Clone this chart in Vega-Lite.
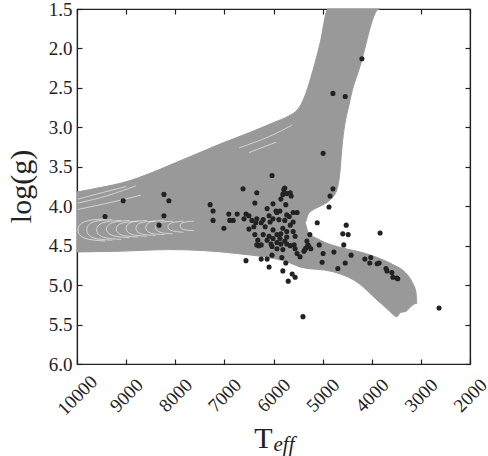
{
  "$schema": "https://vega.github.io/schema/vega-lite/v6.json",
  "width": 393,
  "height": 355,
  "autosize": {"type": "none"},
  "padding": {"left": 77, "top": 9, "right": 18, "bottom": 92},
  "background": "white",
  "config": {
    "view": {"stroke": "#222", "strokeWidth": 1.2},
    "font": "Liberation Serif",
    "axis": {"grid": false, "domainColor": "#222", "tickColor": "#222", "labelColor": "#222", "titleColor": "#222", "domainWidth": 1.2, "tickWidth": 1.2, "labelFont": "Liberation Serif", "titleFont": "Liberation Serif", "titleFontWeight": "normal"}
  },
  "datasets": {
    "band": [
      {"seq": 1, "teff": 10000, "logg": 3.82},
      {"seq": 2, "teff": 9500, "logg": 3.76},
      {"seq": 3, "teff": 9000, "logg": 3.69},
      {"seq": 4, "teff": 8500, "logg": 3.58},
      {"seq": 5, "teff": 8000, "logg": 3.45},
      {"seq": 6, "teff": 7500, "logg": 3.32},
      {"seq": 7, "teff": 7000, "logg": 3.19},
      {"seq": 8, "teff": 6500, "logg": 3.07},
      {"seq": 9, "teff": 6000, "logg": 2.94},
      {"seq": 10, "teff": 5700, "logg": 2.86},
      {"seq": 11, "teff": 5550, "logg": 2.80},
      {"seq": 12, "teff": 5440, "logg": 2.71},
      {"seq": 13, "teff": 5360, "logg": 2.60},
      {"seq": 14, "teff": 5240, "logg": 2.37},
      {"seq": 15, "teff": 5050, "logg": 1.93},
      {"seq": 16, "teff": 4890, "logg": 1.50},
      {"seq": 17, "teff": 3850, "logg": 1.50},
      {"seq": 18, "teff": 4240, "logg": 2.23},
      {"seq": 19, "teff": 4440, "logg": 2.65},
      {"seq": 20, "teff": 4610, "logg": 3.28},
      {"seq": 21, "teff": 4650, "logg": 3.58},
      {"seq": 22, "teff": 4710, "logg": 3.79},
      {"seq": 23, "teff": 4850, "logg": 3.92},
      {"seq": 24, "teff": 4990, "logg": 3.98},
      {"seq": 25, "teff": 5150, "logg": 4.03},
      {"seq": 26, "teff": 5300, "logg": 4.11},
      {"seq": 27, "teff": 5360, "logg": 4.21},
      {"seq": 28, "teff": 5300, "logg": 4.32},
      {"seq": 29, "teff": 5050, "logg": 4.43},
      {"seq": 30, "teff": 4710, "logg": 4.51},
      {"seq": 31, "teff": 4180, "logg": 4.59},
      {"seq": 32, "teff": 3890, "logg": 4.65},
      {"seq": 33, "teff": 3570, "logg": 4.74},
      {"seq": 34, "teff": 3320, "logg": 4.84},
      {"seq": 35, "teff": 3180, "logg": 4.96},
      {"seq": 36, "teff": 3100, "logg": 5.09},
      {"seq": 37, "teff": 3080, "logg": 5.23},
      {"seq": 38, "teff": 3180, "logg": 5.26},
      {"seq": 39, "teff": 3300, "logg": 5.33},
      {"seq": 40, "teff": 3420, "logg": 5.35},
      {"seq": 41, "teff": 3490, "logg": 5.40},
      {"seq": 42, "teff": 3670, "logg": 5.31},
      {"seq": 43, "teff": 3890, "logg": 5.19},
      {"seq": 44, "teff": 4280, "logg": 4.97},
      {"seq": 45, "teff": 4790, "logg": 4.83},
      {"seq": 46, "teff": 5460, "logg": 4.77},
      {"seq": 47, "teff": 5660, "logg": 4.72},
      {"seq": 48, "teff": 6740, "logg": 4.60},
      {"seq": 49, "teff": 8110, "logg": 4.55},
      {"seq": 50, "teff": 9120, "logg": 4.57},
      {"seq": 51, "teff": 10000, "logg": 4.58}
    ],
    "gaps": [
      {"arc": "a1", "seq": 1, "teff": 9430, "logg": 4.44}, {"arc": "a1", "seq": 2, "teff": 9842, "logg": 4.405}, {"arc": "a1", "seq": 3, "teff": 9980, "logg": 4.30}, {"arc": "a1", "seq": 4, "teff": 9842, "logg": 4.195}, {"arc": "a1", "seq": 5, "teff": 9430, "logg": 4.16},
      {"arc": "a2", "seq": 1, "teff": 9280, "logg": 4.43}, {"arc": "a2", "seq": 2, "teff": 9670, "logg": 4.40}, {"arc": "a2", "seq": 3, "teff": 9800, "logg": 4.30}, {"arc": "a2", "seq": 4, "teff": 9670, "logg": 4.20}, {"arc": "a2", "seq": 5, "teff": 9280, "logg": 4.17},
      {"arc": "a3", "seq": 1, "teff": 9100, "logg": 4.42}, {"arc": "a3", "seq": 2, "teff": 9475, "logg": 4.39}, {"arc": "a3", "seq": 3, "teff": 9600, "logg": 4.30}, {"arc": "a3", "seq": 4, "teff": 9475, "logg": 4.21}, {"arc": "a3", "seq": 5, "teff": 9100, "logg": 4.18},
      {"arc": "a4", "seq": 1, "teff": 8930, "logg": 4.40}, {"arc": "a4", "seq": 2, "teff": 9280, "logg": 4.37}, {"arc": "a4", "seq": 3, "teff": 9400, "logg": 4.29}, {"arc": "a4", "seq": 4, "teff": 9280, "logg": 4.21}, {"arc": "a4", "seq": 5, "teff": 8930, "logg": 4.18},
      {"arc": "a5", "seq": 1, "teff": 8750, "logg": 4.39}, {"arc": "a5", "seq": 2, "teff": 9090, "logg": 4.365}, {"arc": "a5", "seq": 3, "teff": 9200, "logg": 4.29}, {"arc": "a5", "seq": 4, "teff": 9090, "logg": 4.215}, {"arc": "a5", "seq": 5, "teff": 8750, "logg": 4.19},
      {"arc": "a6", "seq": 1, "teff": 8580, "logg": 4.38}, {"arc": "a6", "seq": 2, "teff": 8895, "logg": 4.355}, {"arc": "a6", "seq": 3, "teff": 9000, "logg": 4.28}, {"arc": "a6", "seq": 4, "teff": 8895, "logg": 4.205}, {"arc": "a6", "seq": 5, "teff": 8580, "logg": 4.18},
      {"arc": "a7", "seq": 1, "teff": 8400, "logg": 4.37}, {"arc": "a7", "seq": 2, "teff": 8700, "logg": 4.35}, {"arc": "a7", "seq": 3, "teff": 8800, "logg": 4.28}, {"arc": "a7", "seq": 4, "teff": 8700, "logg": 4.21}, {"arc": "a7", "seq": 5, "teff": 8400, "logg": 4.19},
      {"arc": "a8", "seq": 1, "teff": 8220, "logg": 4.36}, {"arc": "a8", "seq": 2, "teff": 8505, "logg": 4.34}, {"arc": "a8", "seq": 3, "teff": 8600, "logg": 4.27}, {"arc": "a8", "seq": 4, "teff": 8505, "logg": 4.20}, {"arc": "a8", "seq": 5, "teff": 8220, "logg": 4.18},
      {"arc": "a9", "seq": 1, "teff": 8050, "logg": 4.35}, {"arc": "a9", "seq": 2, "teff": 8310, "logg": 4.33}, {"arc": "a9", "seq": 3, "teff": 8400, "logg": 4.27}, {"arc": "a9", "seq": 4, "teff": 8310, "logg": 4.21}, {"arc": "a9", "seq": 5, "teff": 8050, "logg": 4.19},
      {"arc": "a10", "seq": 1, "teff": 7830, "logg": 4.33}, {"arc": "a10", "seq": 2, "teff": 8070, "logg": 4.31}, {"arc": "a10", "seq": 3, "teff": 8150, "logg": 4.26}, {"arc": "a10", "seq": 4, "teff": 8070, "logg": 4.21}, {"arc": "a10", "seq": 5, "teff": 7830, "logg": 4.19},
      {"arc": "a11", "seq": 1, "teff": 7620, "logg": 4.31}, {"arc": "a11", "seq": 2, "teff": 7830, "logg": 4.295}, {"arc": "a11", "seq": 3, "teff": 7900, "logg": 4.25}, {"arc": "a11", "seq": 4, "teff": 7830, "logg": 4.205}, {"arc": "a11", "seq": 5, "teff": 7620, "logg": 4.19},
      {"arc": "s1", "seq": 1, "teff": 9980, "logg": 3.96}, {"arc": "s1", "seq": 2, "teff": 9400, "logg": 3.87}, {"arc": "s1", "seq": 3, "teff": 8800, "logg": 3.74},
      {"arc": "s2", "seq": 1, "teff": 9980, "logg": 4.04}, {"arc": "s2", "seq": 2, "teff": 9300, "logg": 3.95}, {"arc": "s2", "seq": 3, "teff": 8700, "logg": 3.86},
      {"arc": "s5", "seq": 1, "teff": 9980, "logg": 3.91}, {"arc": "s5", "seq": 2, "teff": 9500, "logg": 3.83}, {"arc": "s5", "seq": 3, "teff": 9000, "logg": 3.75},
      {"arc": "s3", "seq": 1, "teff": 6700, "logg": 3.26}, {"arc": "s3", "seq": 2, "teff": 6100, "logg": 3.12}, {"arc": "s3", "seq": 3, "teff": 5620, "logg": 2.97},
      {"arc": "s4", "seq": 1, "teff": 6500, "logg": 3.32}, {"arc": "s4", "seq": 2, "teff": 5950, "logg": 3.19}
    ],
    "stars": [
      {"teff": 9430, "logg": 4.13}, {"teff": 9060, "logg": 3.93}, {"teff": 8230, "logg": 3.85}, {"teff": 8130, "logg": 3.93},
      {"teff": 8230, "logg": 4.12}, {"teff": 8330, "logg": 4.24}, {"teff": 7290, "logg": 3.98}, {"teff": 7230, "logg": 4.06},
      {"teff": 7230, "logg": 4.18}, {"teff": 7010, "logg": 4.28}, {"teff": 6910, "logg": 4.10}, {"teff": 6890, "logg": 4.18},
      {"teff": 6820, "logg": 4.18}, {"teff": 6740, "logg": 4.10}, {"teff": 6560, "logg": 4.10}, {"teff": 6620, "logg": 3.78},
      {"teff": 6030, "logg": 3.61}, {"teff": 6340, "logg": 3.83}, {"teff": 6380, "logg": 3.96}, {"teff": 6560, "logg": 4.69},
      {"teff": 6010, "logg": 3.97}, {"teff": 5850, "logg": 3.91}, {"teff": 5810, "logg": 3.85}, {"teff": 5790, "logg": 3.79},
      {"teff": 6130, "logg": 4.03}, {"teff": 5950, "logg": 4.06}, {"teff": 6500, "logg": 4.12}, {"teff": 6600, "logg": 4.16},
      {"teff": 6440, "logg": 4.18}, {"teff": 6340, "logg": 4.16}, {"teff": 6210, "logg": 4.17}, {"teff": 6090, "logg": 4.12},
      {"teff": 6010, "logg": 4.16}, {"teff": 5930, "logg": 4.08}, {"teff": 5890, "logg": 4.17}, {"teff": 6070, "logg": 4.20},
      {"teff": 6360, "logg": 4.21}, {"teff": 6250, "logg": 4.21}, {"teff": 5770, "logg": 3.77}, {"teff": 5730, "logg": 3.84},
      {"teff": 5660, "logg": 3.83}, {"teff": 5640, "logg": 3.87}, {"teff": 5750, "logg": 3.98}, {"teff": 5870, "logg": 4.06},
      {"teff": 5730, "logg": 4.11}, {"teff": 5600, "logg": 4.08}, {"teff": 5520, "logg": 4.08}, {"teff": 5680, "logg": 4.13},
      {"teff": 5770, "logg": 4.18}, {"teff": 5600, "logg": 4.20}, {"teff": 4790, "logg": 3.78}, {"teff": 4850, "logg": 3.87},
      {"teff": 4870, "logg": 4.01}, {"teff": 5110, "logg": 4.21}, {"teff": 6500, "logg": 4.29}, {"teff": 6400, "logg": 4.26},
      {"teff": 6170, "logg": 4.26}, {"teff": 6010, "logg": 4.30}, {"teff": 6380, "logg": 4.36}, {"teff": 6320, "logg": 4.43},
      {"teff": 6250, "logg": 4.49}, {"teff": 6210, "logg": 4.36}, {"teff": 6090, "logg": 4.38}, {"teff": 6010, "logg": 4.41},
      {"teff": 6130, "logg": 4.43}, {"teff": 6050, "logg": 4.48}, {"teff": 5930, "logg": 4.36}, {"teff": 5870, "logg": 4.41},
      {"teff": 5930, "logg": 4.46}, {"teff": 6030, "logg": 4.51}, {"teff": 5930, "logg": 4.54}, {"teff": 5850, "logg": 4.48},
      {"teff": 5810, "logg": 4.55}, {"teff": 6340, "logg": 4.49}, {"teff": 6300, "logg": 4.50}, {"teff": 6030, "logg": 4.62},
      {"teff": 5830, "logg": 4.65}, {"teff": 6250, "logg": 4.67}, {"teff": 6130, "logg": 4.67}, {"teff": 6090, "logg": 4.77},
      {"teff": 5810, "logg": 4.82}, {"teff": 5850, "logg": 4.35}, {"teff": 5660, "logg": 4.24}, {"teff": 5810, "logg": 4.28},
      {"teff": 5730, "logg": 4.32}, {"teff": 5600, "logg": 4.32}, {"teff": 5560, "logg": 4.38}, {"teff": 5730, "logg": 4.39},
      {"teff": 5770, "logg": 4.44}, {"teff": 5730, "logg": 4.48}, {"teff": 5660, "logg": 4.50}, {"teff": 5580, "logg": 4.49},
      {"teff": 5560, "logg": 4.54}, {"teff": 5520, "logg": 4.60}, {"teff": 5460, "logg": 4.64}, {"teff": 5380, "logg": 4.57},
      {"teff": 5340, "logg": 4.53}, {"teff": 5300, "logg": 4.49}, {"teff": 5320, "logg": 4.44}, {"teff": 5280, "logg": 4.51},
      {"teff": 5240, "logg": 4.54}, {"teff": 5070, "logg": 4.49}, {"teff": 5750, "logg": 4.72}, {"teff": 5620, "logg": 4.86},
      {"teff": 5560, "logg": 4.90}, {"teff": 5700, "logg": 4.95}, {"teff": 4200, "logg": 2.13}, {"teff": 4790, "logg": 2.57},
      {"teff": 4540, "logg": 2.61}, {"teff": 4990, "logg": 3.33}, {"teff": 4520, "logg": 4.24}, {"teff": 4590, "logg": 4.35},
      {"teff": 4480, "logg": 4.36}, {"teff": 3830, "logg": 4.34}, {"teff": 4570, "logg": 4.49}, {"teff": 4420, "logg": 4.62},
      {"teff": 4770, "logg": 4.58}, {"teff": 4990, "logg": 4.60}, {"teff": 5260, "logg": 4.36}, {"teff": 5360, "logg": 4.55},
      {"teff": 5010, "logg": 4.71}, {"teff": 4540, "logg": 4.72}, {"teff": 4690, "logg": 4.79}, {"teff": 4140, "logg": 4.67},
      {"teff": 4020, "logg": 4.65}, {"teff": 4040, "logg": 4.72}, {"teff": 3890, "logg": 4.73}, {"teff": 3850, "logg": 4.72},
      {"teff": 3710, "logg": 4.79}, {"teff": 3690, "logg": 4.82}, {"teff": 3590, "logg": 4.84}, {"teff": 3570, "logg": 4.90},
      {"teff": 3490, "logg": 4.91}, {"teff": 3470, "logg": 4.92}, {"teff": 2630, "logg": 5.29}, {"teff": 5400, "logg": 5.40}
    ]
  },
  "layer": [
    {
      "data": {"name": "band"},
      "mark": {"type": "line", "fill": "#999999", "stroke": "#999999", "strokeWidth": 1, "strokeJoin": "round", "interpolate": "monotone"},
      "encoding": {
        "x": {"field": "teff", "type": "quantitative", "scale": {"domain": [2000, 10000], "reverse": true, "nice": false, "zero": false},
          "axis": {"orient": "bottom", "values": [2000, 3000, 4000, 5000, 6000, 7000, 8000, 9000, 10000], "format": "d", "tickSize": -5, "labelAngle": -45, "labelAlign": "center", "labelBaseline": "middle", "labelPadding": 36, "labelFont": "Liberation Serif", "labelFontSize": 19, "labelOverlap": false, "labelFlush": false, "title": "T", "titleFontSize": 30, "titleX": 186, "titleY": 83, "titleAlign": "center", "titleBaseline": "alphabetic"}},
        "y": {"field": "logg", "type": "quantitative", "scale": {"domain": [1.5, 6.0], "reverse": true, "nice": false, "zero": false},
          "axis": {"orient": "left", "values": [1.5, 2.0, 2.5, 3.0, 3.5, 4.0, 4.5, 5.0, 5.5, 6.0], "format": ".1f", "tickSize": -5, "labelPadding": 10, "labelFont": "Liberation Serif", "labelFontSize": 19, "labelOverlap": false, "labelFlush": false, "title": "log(g)", "titleFontSize": 30, "titleX": -56, "titleY": 177, "titleAngle": -90, "titleAlign": "center", "titleBaseline": "middle"}},
        "order": {"field": "seq", "type": "quantitative"}
      }
    },
    {
      "data": {"name": "gaps"},
      "mark": {"type": "line", "stroke": "#ffffff", "strokeWidth": 0.8, "opacity": 0.7, "interpolate": "natural", "clip": true},
      "encoding": {
        "x": {"field": "teff", "type": "quantitative", "scale": {"domain": [2000, 10000], "reverse": true, "nice": false, "zero": false}, "axis": null},
        "y": {"field": "logg", "type": "quantitative", "scale": {"domain": [1.5, 6.0], "reverse": true, "nice": false, "zero": false}, "axis": null},
        "detail": {"field": "arc", "type": "nominal"},
        "order": {"field": "seq", "type": "quantitative"}
      }
    },
    {
      "data": {"name": "stars"},
      "mark": {"type": "circle", "size": 26, "color": "#222", "opacity": 1},
      "encoding": {
        "x": {"field": "teff", "type": "quantitative", "scale": {"domain": [2000, 10000], "reverse": true, "nice": false, "zero": false},
          "axis": {"orient": "top", "values": [2000, 3000, 4000, 5000, 6000, 7000, 8000, 9000, 10000], "domain": true, "tickSize": -5, "labels": false, "title": "eff", "titleFontSize": 21, "titleFontStyle": "italic", "titleX": 196, "titleY": 441, "titleAlign": "left", "titleBaseline": "alphabetic"}},
        "y": {"field": "logg", "type": "quantitative", "scale": {"domain": [1.5, 6.0], "reverse": true, "nice": false, "zero": false},
          "axis": {"orient": "right", "values": [1.5, 2.0, 2.5, 3.0, 3.5, 4.0, 4.5, 5.0, 5.5, 6.0], "domain": true, "tickSize": -5, "labels": false, "title": null}}
      }
    }
  ],
  "resolve": {"scale": {"x": "independent", "y": "independent"}, "axis": {"x": "independent", "y": "independent"}}
}
